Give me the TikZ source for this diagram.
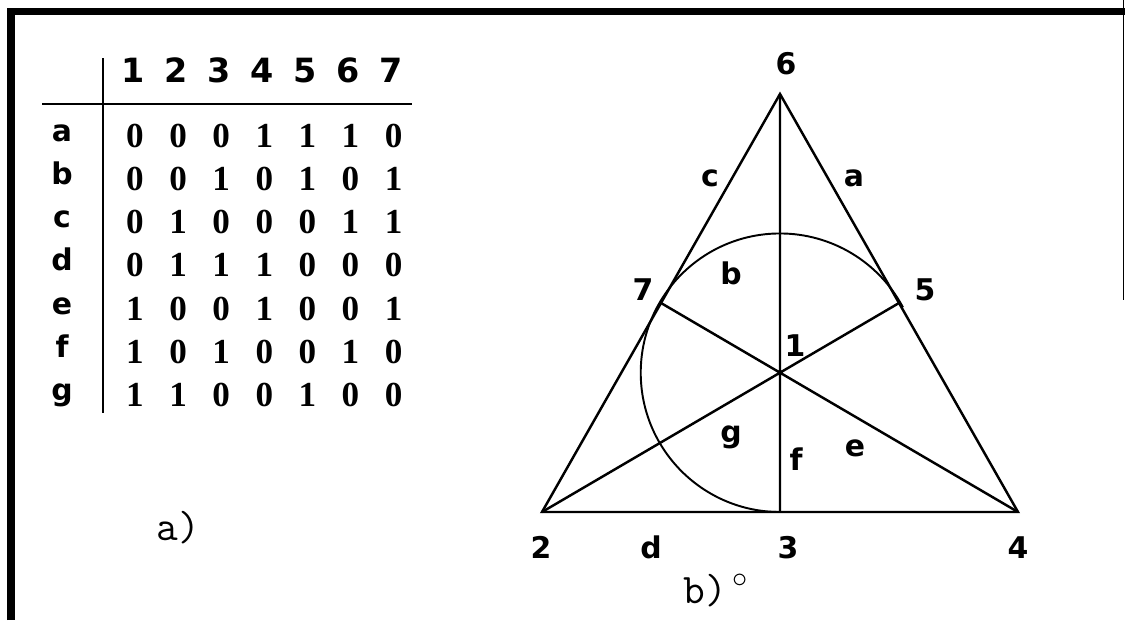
\documentclass[tikz,border=0pt]{standalone}
\usepackage{fontspec}
\usepackage{tikz}
\usetikzlibrary{calc}
\newfontfamily\labelfont{DejaVu Sans}
\newfontfamily\entryfont{Liberation Serif}
\tikzset{
  ptlabel/.style={font=\labelfont\bfseries\fontsize{17}{20}\selectfont,anchor=base,inner sep=0pt},
  headnum/.style={font=\labelfont\bfseries\fontsize{19}{22}\selectfont,anchor=base,inner sep=0pt},
  rowlabel/.style={font=\labelfont\bfseries\fontsize{17}{20}\selectfont,anchor=base,inner sep=0pt},
  entry/.style={font=\entryfont\bfseries\fontsize{20}{24}\selectfont,anchor=base,inner sep=0pt},
  caption/.style={font=\ttfamily\fontsize{24}{28}\selectfont,anchor=base,inner sep=0pt}
}

\begin{document}
\begin{tikzpicture}[x=0.02cm,y=-0.02cm,line width=1.2pt]
  \useasboundingbox (0,0) rectangle (1125,620);
  % frame
  \draw[line width=4pt] (11,620) -- (11,11.5) -- (1125,11.5);
  \draw[line width=0.8pt] (1123.5,0) -- (1123.5,300);
  % a) table
  \draw (103,58) -- (103,413);
  \draw (42,104) -- (412,104);
  \foreach \i in {1,...,7}
    \node[headnum] (h\i) at ({133+43.1*(\i-1)},82) {\i};
  \foreach \r/\bits [count=\j] in {a/{0,0,0,1,1,1,0},b/{0,0,1,0,1,0,1},c/{0,1,0,0,0,1,1},
      d/{0,1,1,1,0,0,0},e/{1,0,0,1,0,0,1},f/{1,0,1,0,0,1,0},g/{1,1,0,0,1,0,0}} {
    \node[rowlabel] (r\r) at (62,{141+43.3*(\j-1)}) {\r};
    \foreach \v [count=\i] in \bits
      \node[entry] (m\j\i) at ({135+43.1*(\i-1)},{147+43.3*(\j-1)}) {\v};
  }
  \node[caption] (capa) at (178,540) {a)};
  % b) the plane
  \coordinate (v6) at (780,94);
  \coordinate (v2) at (542,512);
  \coordinate (v4) at (1018,512);
  \coordinate (v3) at ($(v2)!0.5!(v4)$);
  \coordinate (v5) at ($(v4)!0.5!(v6)$);
  \coordinate (v7) at ($(v2)!0.5!(v6)$);
  \coordinate (v1) at (barycentric cs:v2=1,v4=1,v6=1);
  \draw[line width=1.4pt] (v2) -- (v4) -- (v6) -- cycle;
  \draw[line width=1.4pt] (v6) -- (v3) (v2) -- (v5) (v4) -- (v7);
  \draw[line width=1.1pt] (v3) arc[start angle=270, end angle=28, radius=2.786cm];
  \node[ptlabel] (p6) at (786,74) {6};
  \node[ptlabel] (p7) at (643,300) {7};
  \node[ptlabel] (p5) at (925,300) {5};
  \node[ptlabel] (p1) at (795,356) {1};
  \node[ptlabel] (p2) at (541,558) {2};
  \node[ptlabel] (p3) at (788,558) {3};
  \node[ptlabel] (p4) at (1018,558) {4};
  \node[ptlabel] (la) at (854,186) {a};
  \node[ptlabel] (lb) at (731,284) {b};
  \node[ptlabel] (lc) at (710,186) {c};
  \node[ptlabel] (ld) at (651,558) {d};
  \node[ptlabel] (le) at (855,456) {e};
  \node[ptlabel] (lf) at (796,470) {f};
  \node[ptlabel] (lg) at (731,442) {g};
  \node[caption] (capb) at (716,603) {b)$^{\,\circ}$};
\end{tikzpicture}
\end{document}
